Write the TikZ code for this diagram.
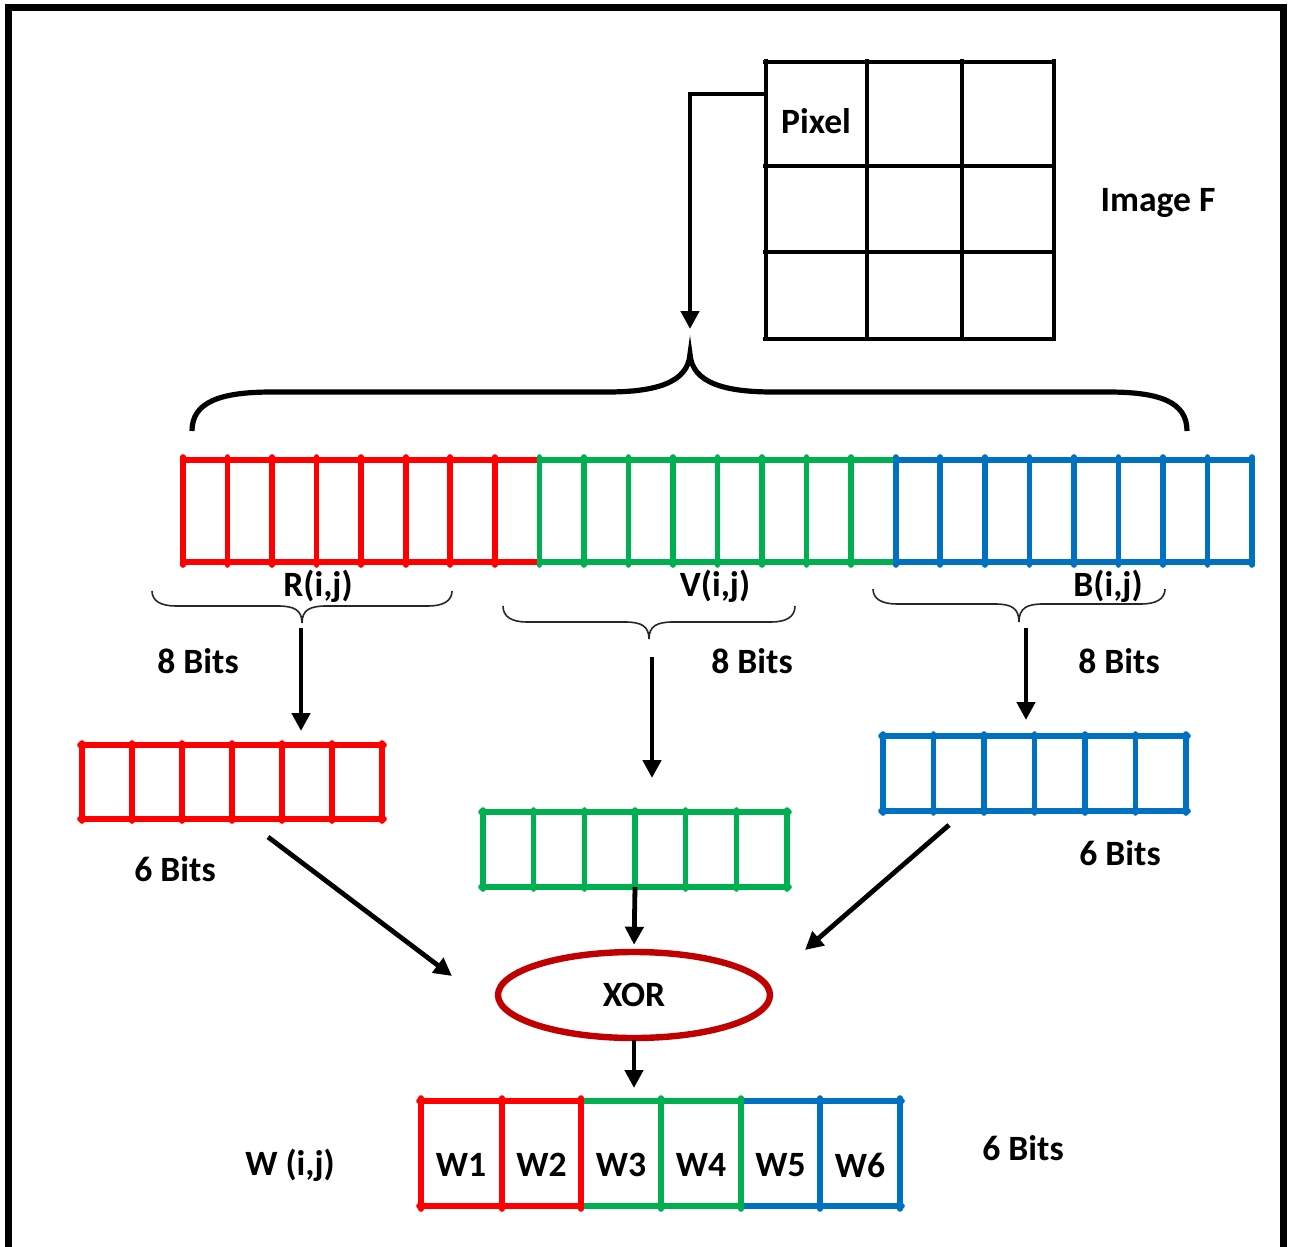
\documentclass[tikz,border=0pt]{standalone}
\usepackage{fontspec}
\setmainfont{Carlito}
\usetikzlibrary{arrows.meta,shapes.geometric}

\definecolor{bitred}{RGB}{255,0,0}
\definecolor{bitgreen}{RGB}{0,176,80}
\definecolor{bitblue}{RGB}{0,112,192}
\definecolor{xorred}{RGB}{192,0,0}

% a register of six cells: colour, x0, y0, x1, y1
\newcommand{\sixbar}[5]{%
  \draw[bitline,color=#1] (#2-2,#3) -- (#4+2,#3) (#2-2,#5) -- (#4+2,#5);
  \foreach \i in {0,...,6}
    \draw[bitline,color=#1] ({#2+\i*(#4-#2)/6},#3-2) -- ({#2+\i*(#4-#2)/6},#5+2);
}

% thin curly brace opening downwards: left x, right x, end y, bar y, tip y
\newcommand{\bitbrace}[5]{%
  \draw[thinbrace] (#1,#3) .. controls (#1,#4-5) and (#1+9,#4) .. (#1+24,#4)
    -- ({(#1+#2)/2-24},#4) .. controls ({(#1+#2)/2-8},#4) and ({(#1+#2)/2},#4+4) .. ({(#1+#2)/2},#5)
    .. controls ({(#1+#2)/2},#4+4) and ({(#1+#2)/2+8},#4) .. ({(#1+#2)/2+24},#4)
    -- (#2-24,#4) .. controls (#2-9,#4) and (#2,#4-5) .. (#2,#3);
}

\begin{document}
\begin{tikzpicture}[x=0.5pt,y=-0.5pt,
  lbl/.style={font=\fontsize{17.8pt}{20pt}\selectfont\bfseries, inner sep=0pt},
  gridline/.style={line width=2.4pt},
  bitline/.style={line width=2.8pt, line cap=round},
  flow/.style={line width=2.4pt, -{Triangle[length=9pt,width=9pt]}},
  thinbrace/.style={line width=0.8pt, black!85},
  barbox/.style={inner sep=0pt, outer sep=0pt, draw=none},
]
\useasboundingbox (0,0) rectangle (1290,1247);

% outer frame, open at the bottom
\draw[line width=3.5pt] (8,1260) -- (8,8) -- (1283.5,8) -- (1283.5,1260);

% ---------- image F : 3 x 3 pixel grid ----------
\node[barbox, minimum width=144pt, minimum height=138.5pt] (image) at (910,200.5) {};
\foreach \x in {766,867,962,1054} \draw[gridline] (\x,59) -- (\x,341);
\foreach \y in {62,166,252,339} \draw[gridline] (763,\y) -- (1056,\y);
\node[lbl] (pixel) at (816,121) {Pixel};
\node[lbl] (imagef) at (1158,203) {Image F};

\coordinate (pixw) at (766,94);
\coordinate (pxin) at (690,329);
\draw[flow] (pixw) -| (pxin);

% big brace over the 24-bit word
\coordinate (bigtip) at (690,354);
\draw[line width=2.6pt] (192,431) .. controls (192,402) and (220,392) .. (272,392)
  -- (607,392) .. controls (655,392) and (688,383) .. (bigtip)
  .. controls (692,383) and (725,392) .. (773,392)
  -- (1108,392) .. controls (1160,392) and (1187,402) .. (1187,431);

% ---------- 24-bit pixel word R | V | B ----------
\node[barbox, minimum width=534.5pt, minimum height=51pt] (word) at (717.5,511) {};
\foreach \col/\xa in {bitred/183, bitgreen/539.3, bitblue/895.7} {
  \draw[bitline,color=\col] (\xa,460) -- ++(356.3,0);
  \draw[bitline,color=\col] (\xa,562) -- ++(356.3,0);
  \foreach \i in {0,...,7}
    \draw[bitline,color=\col] ({\xa+\i*44.54},457) -- ({\xa+\i*44.54},565);
}
\draw[bitline,color=bitblue] (1252,457) -- (1252,565);

\node[lbl] (rlab) at (318,586) {R(i,j)};
\node[lbl] (vlab) at (715,586) {V(i,j)};
\node[lbl] (blab) at (1108,586) {B(i,j)};

\bitbrace{152}{452}{591}{606}{623}
\bitbrace{503}{795}{606}{622}{639}
\bitbrace{873}{1165}{589}{604}{622}

\node[lbl] (r8) at (198,661) {8 Bits};
\node[lbl] (v8) at (752,661) {8 Bits};
\node[lbl] (b8) at (1119,661) {8 Bits};

\coordinate (rtip) at (301,628);
\coordinate (vtip) at (652,657);
\coordinate (btip) at (1026,628);
\coordinate (rin) at (301,731);
\coordinate (vin) at (652,778);
\coordinate (bin) at (1026,720);
\draw[flow] (rtip) -- (rin);
\draw[flow] (vtip) -- (vin);
\draw[flow] (btip) -- (bin);

% ---------- reduced 6-bit registers ----------
\node[barbox, minimum width=150pt, minimum height=37pt] (rsix) at (232,782) {};
\node[barbox, minimum width=152pt, minimum height=37.5pt] (gsix) at (635,849.5) {};
\node[barbox, minimum width=151.5pt, minimum height=37.5pt] (bsix) at (1034.5,773.5) {};
\sixbar{bitred}{82}{745}{382}{819}
\sixbar{bitgreen}{483}{812}{787}{887}
\sixbar{bitblue}{883}{736}{1186}{811}

\node[lbl] (r6) at (175,869) {6 Bits};
\node[lbl] (b6) at (1120,853) {6 Bits};

% ---------- XOR ----------
\node[ellipse, draw=xorred, line width=3.2pt, inner sep=0pt,
      minimum width=136pt, minimum height=43pt, lbl] (xor) at (634,995) {XOR};

\coordinate (rout) at (268,837);
\coordinate (xinl) at (452,976);
\coordinate (bout) at (949,825);
\coordinate (xinr) at (805,950);
\draw[flow] (rout) -- (xinl);
\draw[flow] (bout) -- (xinr);
\draw[flow, shorten >=2pt] (gsix.south) -- (xor.north);

% ---------- watermark word W(i,j) ----------
\node[barbox, minimum width=239.5pt, minimum height=52.5pt] (wbar) at (660.5,1153.5) {};
\coordinate (win) at (634,1088);
\draw[flow] (634,1040) coordinate (xout) -- (win);

\draw[bitline,color=bitred]   (419,1101) -- (581,1101) (419,1206) -- (581,1206);
\draw[bitline,color=bitgreen] (581,1101) -- (741,1101) (581,1206) -- (741,1206);
\draw[bitline,color=bitblue]  (741,1101) -- (902,1101) (741,1206) -- (902,1206);
\foreach \x in {421,502,581} \draw[bitline,color=bitred]   (\x,1098) -- (\x,1209);
\foreach \x in {661,741}     \draw[bitline,color=bitgreen] (\x,1098) -- (\x,1209);
\foreach \x in {820,900}     \draw[bitline,color=bitblue]  (\x,1098) -- (\x,1209);

\foreach \t/\x in {1/461,2/541.5,3/621,4/701,5/780.5,6/860}
  \node[lbl] (w\t) at (\x,1165) {W\t};

\node[lbl] (wlab) at (290,1165) {W (i,j)};
\node[lbl] (w6) at (1023,1148) {6 Bits};

\end{tikzpicture}
\end{document}
